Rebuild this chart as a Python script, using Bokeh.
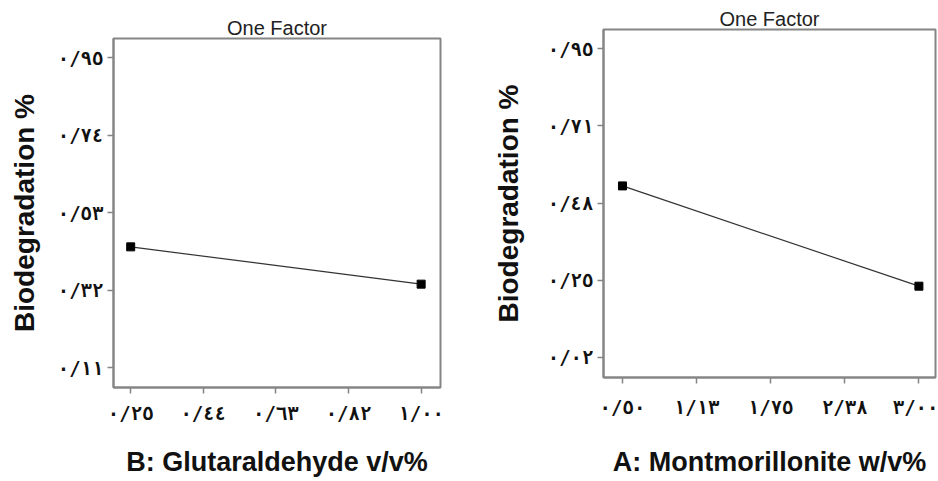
from bokeh.plotting import figure
from bokeh.layouts import row
from bokeh.models import FixedTicker, Range1d
from bokeh.embed import file_html
from bokeh.resources import INLINE

# ---- data: left panel (B: Glutaraldehyde) ----
b_x = [0.25, 1.00]
b_y = [0.437, 0.336]
b_xticks = [0.25, 0.4375, 0.625, 0.8125, 1.00]
b_xlabels = ["٠/٢٥", "٠/٤٤", "٠/٦٣", "٠/٨٢", "١/٠٠"]
b_yticks = [0.11, 0.32, 0.53, 0.74, 0.95]
b_ylabels = ["٠/١١", "٠/٣٢", "٠/٥٣", "٠/٧٤", "٠/٩٥"]

# ---- data: right panel (A: Montmorillonite) ----
a_x = [0.50, 3.00]
a_y = [0.534, 0.232]
a_xticks = [0.50, 1.125, 1.75, 2.375, 3.00]
a_xlabels = ["٠/٥٠", "١/١٣", "١/٧٥", "٢/٣٨", "٣/٠٠"]
a_yticks = [0.0175, 0.25, 0.4825, 0.715, 0.9475]
a_ylabels = ["٠/٠٢", "٠/٢٥", "٠/٤٨", "٠/٧١", "٠/٩٥"]

TITLE = "One Factor"
YLABEL = "Biodegradation %"

GREY = "#858585"
TXT = "#111111"


def make_panel(xs, ys, xticks, xlabels, yticks, ylabels, xlabel, xr, yr,
               width, borders, ylab_standoff, xtick_standoff, xlab_standoff):
    left, right, top, bottom = borders
    p = figure(width=width, height=481, output_backend="svg", toolbar_location=None,
               x_range=Range1d(*xr), y_range=Range1d(*yr),
               min_border_left=left, min_border_right=right,
               min_border_top=top, min_border_bottom=bottom)
    p.frame_align = False
    p.title.text = TITLE
    p.title.align = "center"
    p.title.text_font = "Liberation Sans"
    p.title.text_font_size = "20px"
    p.title.text_font_style = "normal"
    p.title.text_color = "#222222"
    p.title.standoff = 0
    p.grid.visible = False
    p.outline_line_color = GREY
    p.outline_line_width = 2
    p.background_fill_color = "white"
    p.border_fill_color = "white"

    for ax in (p.xaxis[0], p.yaxis[0]):
        ax.axis_line_color = GREY
        ax.axis_line_width = 2
        ax.major_tick_line_color = GREY
        ax.major_tick_line_width = 1.5
        ax.major_tick_out = 6
        ax.major_tick_in = 0
        ax.minor_tick_line_color = None
        ax.major_label_text_font = "DejaVu Sans Mono"
        ax.major_label_text_font_size = "19px"
        ax.major_label_text_font_style = "bold"
        ax.major_label_text_color = TXT
        ax.axis_label_text_font = "Liberation Sans"
        ax.axis_label_text_font_style = "bold"
        ax.axis_label_text_color = TXT

    p.xaxis.ticker = FixedTicker(ticks=xticks)
    p.xaxis.major_label_overrides = {t: l for t, l in zip(xticks, xlabels)}
    p.yaxis.ticker = FixedTicker(ticks=yticks)
    p.yaxis.major_label_overrides = {t: l for t, l in zip(yticks, ylabels)}
    p.yaxis.axis_label = YLABEL
    p.yaxis.axis_label_text_font_size = "28px"
    p.yaxis.major_label_standoff = 4
    p.yaxis.axis_label_standoff = ylab_standoff
    p.xaxis.axis_label = xlabel
    p.xaxis.axis_label_text_font_size = "27px"
    p.xaxis.axis_label_text_line_height = 1.0
    p.xaxis.major_label_standoff = xtick_standoff
    p.xaxis.axis_label_standoff = xlab_standoff

    p.line(xs, ys, line_color="#333333", line_width=1.2)
    p.scatter(xs, ys, marker="square", size=8, fill_color="black", line_color="black")
    return p


p1 = make_panel(b_x, b_y, b_xticks, b_xlabels, b_yticks, b_ylabels,
                "B: Glutaraldehyde v/v%", (0.2056, 1.05), (0.056, 1.0015),
                470, (113, 30, 38, 94), 15, 8, 20)
p2 = make_panel(a_x, a_y, a_xticks, a_xlabels, a_yticks, a_ylabels,
                "A: Montmorillonite w/v%", (0.34, 3.14), (-0.043, 1.005),
                468, (133, 3, 29, 104), 21, 12, 26)

layout = row(p1, p2)
open("out.html", "w").write(file_html(layout, INLINE))
